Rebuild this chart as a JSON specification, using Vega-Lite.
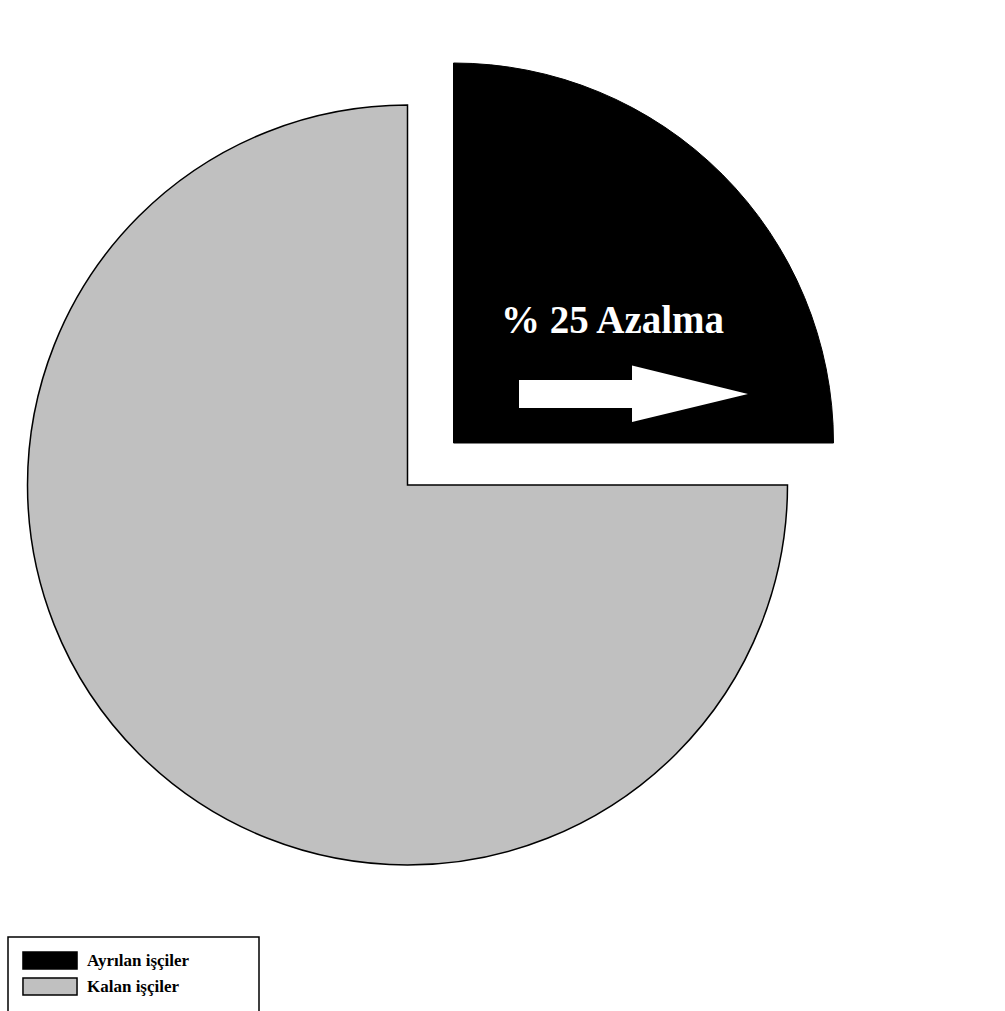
{
  "$schema": "https://vega.github.io/schema/vega-lite/v6.json",
  "width": 815,
  "height": 970,
  "autosize": {"type": "none"},
  "padding": {"left": 0, "top": 0, "right": 190, "bottom": 41},
  "background": "white",
  "config": {"view": {"stroke": null}},
  "datasets": {
    "pie": [
      {"group": "Ayrılan işçiler", "value": 25},
      {"group": "Kalan işçiler", "value": 75}
    ],
    "note": [{"note": "% 25 Azalma"}]
  },
  "layer": [
    {
      "data": {"name": "pie"},
      "transform": [
        {"stack": "value", "groupby": [], "sort": [{"field": "group", "order": "ascending"}], "as": ["v0", "v1"]},
        {"filter": "datum.group === 'Kalan işçiler'"}
      ],
      "mark": {"type": "arc", "radius": 380, "stroke": "black", "strokeWidth": 1.5},
      "encoding": {
        "theta": {"field": "v0", "type": "quantitative", "scale": {"domain": [0, 100]}},
        "theta2": {"field": "v1"},
        "color": {
          "field": "group",
          "type": "nominal",
          "scale": {"domain": ["Ayrılan işçiler", "Kalan işçiler"], "range": ["#000000", "#c0c0c0"]},
          "legend": {
            "title": null,
            "orient": "none",
            "legendX": 8,
            "legendY": 937,
            "padding": 14,
            "strokeColor": "black",
            "fillColor": "white",
            "symbolType": "M-3.18,-1H3.18V1H-3.18Z",
            "symbolSize": 289,
            "symbolStrokeColor": "black",
            "symbolStrokeWidth": 1.5,
            "symbolOffset": 18.5,
            "labelOffset": 27.5,
            "labelFont": "Liberation Serif",
            "labelFontWeight": "bold",
            "labelFontSize": 17,
            "labelColor": "black",
            "labelLimit": 260,
            "rowPadding": 3,
            "labelExpr": "datum.label + '\u00a0\u00a0\u00a0\u00a0\u00a0\u00a0\u00a0\u00a0\u00a0\u00a0\u00a0\u00a0\u00a0\u200b'",
            "encode": {"legend": {"update": {"strokeWidth": {"value": 1.5}}}}
          }
        }
      }
    },
    {
      "data": {"name": "pie"},
      "transform": [
        {"stack": "value", "groupby": [], "sort": [{"field": "group", "order": "ascending"}], "as": ["v0", "v1"]},
        {"filter": "datum.group === 'Ayrılan işçiler'"}
      ],
      "mark": {"type": "arc", "radius": 380, "stroke": "black", "strokeWidth": 1, "xOffset": 46, "yOffset": -42},
      "encoding": {
        "theta": {"field": "v0", "type": "quantitative", "scale": {"domain": [0, 100]}},
        "theta2": {"field": "v1"},
        "color": {"field": "group", "type": "nominal"}
      }
    },
    {
      "data": {"name": "note"},
      "mark": {"type": "text", "font": "Liberation Serif", "fontWeight": "bold", "fontSize": 39, "color": "white", "align": "center", "baseline": "alphabetic", "dx": 205, "dy": -152},
      "encoding": {"text": {"field": "note", "type": "nominal"}}
    },
    {
      "data": {"name": "note"},
      "mark": {"type": "point", "shape": "M-1,-0.122H-0.013V-0.25L1,0L-0.013,0.245V0.122H-1Z", "size": 52441, "filled": true, "color": "white", "opacity": 1, "strokeWidth": 0, "xOffset": 226, "yOffset": -91},
      "encoding": {}
    }
  ]
}
